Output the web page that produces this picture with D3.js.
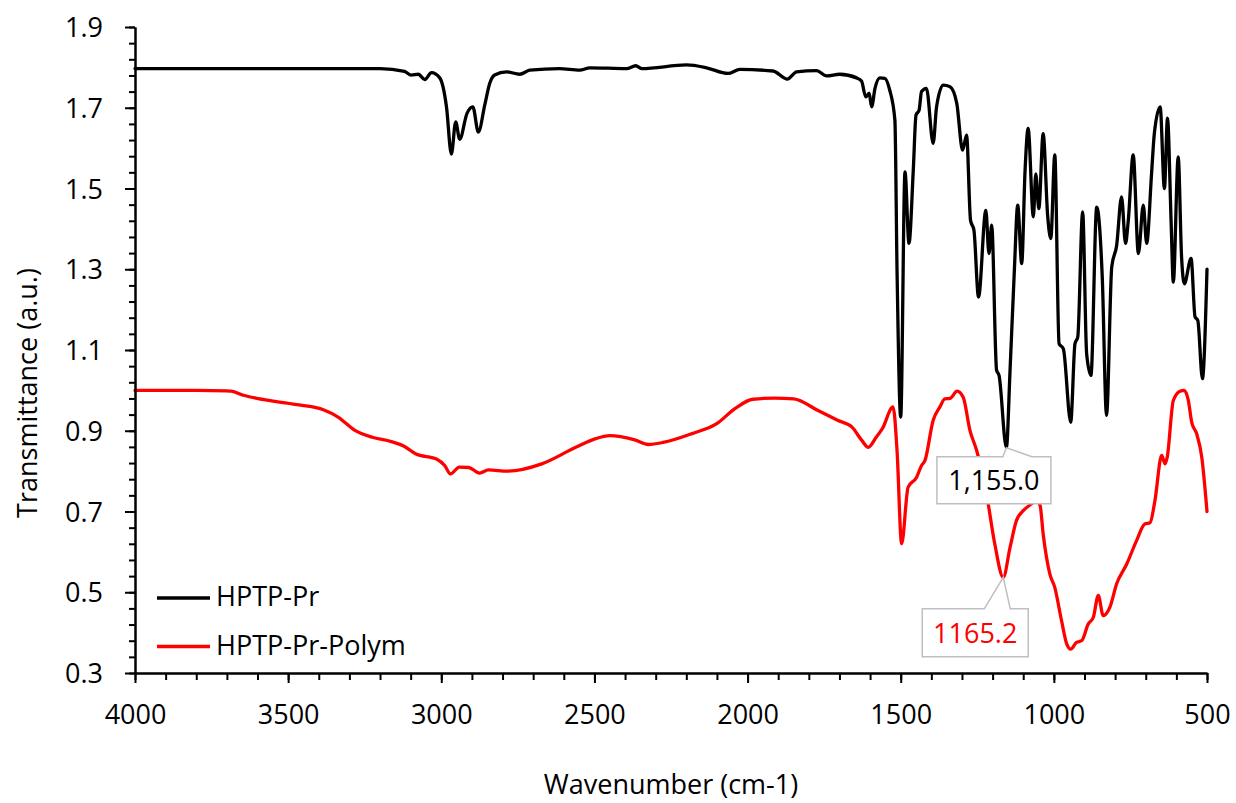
<!DOCTYPE html>
<html>
<head>
<meta charset="utf-8">
<script src="https://cdn.jsdelivr.net/npm/d3@7"></script>
<style>
  html, body { margin: 0; padding: 0; background: #fff; }
  svg { display: block; font-family: "Open Sans", "Noto Sans", sans-serif; }
</style>
</head>
<body>
<svg id="chart" width="1236" height="803"></svg>
<script>
// FTIR spectra: wavenumber (cm-1) and transmittance (a.u.)
const prWavenumber = [
  4000, 3800, 3600, 3400, 3200, 3120, 3098, 3075, 3054, 3032, 3005, 2983, 2967, 2953, 2940,
  2916, 2897, 2879, 2858, 2842, 2826, 2787, 2744, 2711, 2614, 2548, 2515, 2395, 2365, 2346,
  2199, 2134, 2064, 2025, 1917, 1870, 1840, 1775, 1742, 1699, 1644, 1628, 1614, 1603, 1595,
  1584, 1568, 1552, 1536, 1519, 1512, 1500, 1486, 1473, 1459, 1450, 1440, 1432, 1416, 1394,
  1383, 1361, 1339, 1317, 1298, 1285, 1272, 1261, 1246, 1222, 1212, 1203, 1187, 1179, 1155,
  1143, 1129, 1118, 1105, 1094, 1084, 1067, 1059, 1049, 1035, 1020, 1010, 997, 983, 969,
  945, 931, 922, 906, 893, 879, 860, 842, 828, 811, 795, 779, 766, 757, 741,
  724, 708, 697, 681, 672, 653, 639, 629, 617, 610, 594, 583, 574, 552, 539,
  530, 515, 500
];
const prTransmittance = [
  1.797, 1.797, 1.797, 1.797, 1.797, 1.790, 1.781, 1.783, 1.770, 1.787, 1.774, 1.702, 1.585, 1.665, 1.622,
  1.686, 1.702, 1.640, 1.707, 1.760, 1.781, 1.789, 1.783, 1.793, 1.797, 1.793, 1.799, 1.797, 1.804, 1.797,
  1.806, 1.799, 1.785, 1.795, 1.791, 1.771, 1.789, 1.792, 1.779, 1.783, 1.774, 1.766, 1.727, 1.736, 1.702,
  1.748, 1.774, 1.773, 1.744, 1.669, 1.297, 0.934, 1.541, 1.364, 1.545, 1.682, 1.694, 1.740, 1.748, 1.612,
  1.702, 1.756, 1.752, 1.711, 1.595, 1.632, 1.421, 1.397, 1.231, 1.446, 1.339, 1.409, 1.050, 1.037, 0.858,
  1.050, 1.297, 1.459, 1.314, 1.545, 1.649, 1.430, 1.536, 1.450, 1.636, 1.430, 1.376, 1.583, 1.116, 1.103,
  0.921, 1.116, 1.132, 1.442, 1.091, 1.037, 1.454, 1.281, 0.938, 1.306, 1.359, 1.479, 1.364, 1.421, 1.583,
  1.339, 1.459, 1.364, 1.537, 1.636, 1.702, 1.500, 1.674, 1.413, 1.268, 1.578, 1.330, 1.264, 1.327, 1.182,
  1.173, 1.029, 1.300
];

const polymWavenumber = [
  4000, 3900, 3800, 3700, 3685, 3646, 3606, 3543, 3464, 3385, 3337, 3282, 3226, 3163, 3123,
  3084, 3013, 2989, 2970, 2941, 2910, 2875, 2846, 2783, 2672, 2561, 2498, 2450, 2371, 2324,
  2276, 2181, 2102, 2039, 1983, 1912, 1849, 1770, 1706, 1659, 1627, 1606, 1580, 1560, 1525,
  1512, 1497, 1476, 1448, 1432, 1421, 1394, 1372, 1356, 1339, 1316, 1296, 1274, 1252, 1220,
  1193, 1165.2, 1143, 1122, 1100, 1073, 1058, 1045, 1035, 1013, 997, 975, 958, 945, 926,
  909, 888, 871, 855, 839, 817, 795, 762, 730, 703, 686, 670, 648, 637, 630,
  610, 588, 575, 561, 550, 534, 517, 500
];
const polymTransmittance = [
  1.000, 1.000, 1.000, 0.999, 0.998, 0.988, 0.981, 0.973, 0.964, 0.952, 0.934, 0.901, 0.884, 0.873, 0.862,
  0.843, 0.829, 0.814, 0.793, 0.810, 0.809, 0.795, 0.803, 0.800, 0.818, 0.859, 0.880, 0.888, 0.878, 0.866,
  0.871, 0.893, 0.917, 0.956, 0.978, 0.981, 0.979, 0.950, 0.926, 0.909, 0.876, 0.859, 0.884, 0.905, 0.959,
  0.851, 0.620, 0.760, 0.785, 0.814, 0.826, 0.926, 0.959, 0.979, 0.980, 0.998, 0.983, 0.901, 0.851, 0.744,
  0.620, 0.537, 0.611, 0.678, 0.702, 0.719, 0.728, 0.715, 0.645, 0.545, 0.512, 0.430, 0.372, 0.359, 0.376,
  0.380, 0.421, 0.438, 0.492, 0.442, 0.463, 0.521, 0.570, 0.628, 0.669, 0.672, 0.727, 0.839, 0.818, 0.834,
  0.975, 0.998, 1.000, 0.975, 0.921, 0.893, 0.834, 0.700
];

const seriesNames = ["HPTP-Pr", "HPTP-Pr-Polym"];
const seriesColors = ["#000000", "#ff0000"];
const xTickValues = [4000, 3500, 3000, 2500, 2000, 1500, 1000, 500];
const yTickValues = [0.3, 0.5, 0.7, 0.9, 1.1, 1.3, 1.5, 1.7, 1.9];
const peakWavenumbers = [1155.0, 1165.2];
const peakFormats = [",.1f", ".1f"];

const series = [
  { name: seriesNames[0], color: seriesColors[0],
    points: prWavenumber.map((w, i) => ({ w, v: prTransmittance[i] })) },
  { name: seriesNames[1], color: seriesColors[1],
    points: polymWavenumber.map((w, i) => ({ w, v: polymTransmittance[i] })) }
];

const svg = d3.select("#chart");
const plot = { left: 135, right: 1207, top: 27, bottom: 673 };
const fontSize = 27;

const x = d3.scaleLinear().domain([4000, 500]).range([plot.left, plot.right]);
const y = d3.scaleLinear().domain([0.3, 1.9]).range([plot.bottom, plot.top]);

// spectra
const line = d3.line()
  .x(d => x(d.w))
  .y(d => y(d.v))
  .curve(d3.curveMonotoneX);

svg.append("g").selectAll("path")
  .data(series)
  .join("path")
  .attr("d", d => line(d.points))
  .attr("fill", "none")
  .attr("stroke", d => d.color)
  .attr("stroke-width", 3.3)
  .attr("stroke-linejoin", "round")
  .attr("stroke-linecap", "round");

// axes
function styleAxis(g) {
  g.selectAll("path.domain").attr("stroke", "#000").attr("stroke-width", 2);
  g.selectAll(".tick line").attr("stroke", "#000").attr("stroke-width", 2);
  g.selectAll("text").attr("font-size", fontSize).attr("fill", "#000")
    .attr("font-family", "'Open Sans', 'Noto Sans', sans-serif");
}

svg.append("g")
  .attr("transform", `translate(0,${plot.bottom})`)
  .call(d3.axisBottom(x).tickValues(d3.range(500, 4001, 100)).tickSize(7).tickSizeOuter(0).tickFormat(""))
  .call(styleAxis);

svg.append("g")
  .attr("transform", `translate(0,${plot.bottom})`)
  .call(d3.axisBottom(x).tickValues(xTickValues).tickSize(10).tickSizeOuter(0).tickFormat(d3.format("d")))
  .call(styleAxis)
  .call(g => g.selectAll(".tick text").attr("y", 51).attr("dy", 0));

svg.append("g")
  .attr("transform", `translate(${plot.left},0)`)
  .call(d3.axisLeft(y).tickValues(d3.range(0, 41).map(i => 0.3 + i * 0.04)).tickSize(6).tickSizeOuter(0).tickFormat(""))
  .call(styleAxis);

svg.append("g")
  .attr("transform", `translate(${plot.left},0)`)
  .call(d3.axisLeft(y).tickValues(yTickValues).tickSize(10).tickSizeOuter(0).tickFormat(d3.format(".1f")))
  .call(styleAxis)
  .call(g => g.selectAll(".tick text").attr("x", -32).attr("dy", "0.36em"));

// axis titles
svg.append("text")
  .attr("x", (plot.left + plot.right) / 2)
  .attr("y", 794)
  .attr("text-anchor", "middle")
  .attr("font-size", fontSize)
  .text("Wavenumber (cm-1)");

svg.append("text")
  .attr("transform", "translate(37,393) rotate(-90)")
  .attr("text-anchor", "middle")
  .attr("font-size", fontSize)
  .text("Transmittance (a.u.)");

// legend
const legend = svg.append("g").attr("transform", "translate(157,598)");
series.forEach((s, i) => {
  const row = legend.append("g").attr("transform", `translate(0,${i * 48.5})`);
  row.append("line").attr("x1", 0).attr("x2", 53).attr("y1", 0).attr("y2", 0)
    .attr("stroke", s.color).attr("stroke-width", 3.5);
  row.append("text").attr("x", 59).attr("y", 0).attr("dy", "0.3em")
    .attr("font-size", fontSize).attr("fill", "#000").text(s.name);
});

// peak callouts
const calloutLayout = [
  { left: -69.5, right: 44.5, top: 9, bottom: 56, base1: -3.5, base2: 25.5 },
  { left: -81, right: 25, top: 31.5, bottom: 79.5, base1: -19, base2: 7 }
];
const callouts = svg.append("g");
series.forEach((s, i) => {
  const pt = s.points.find(p => p.w === peakWavenumbers[i]);
  const px = x(pt.w), py = y(pt.v);
  const L = calloutLayout[i];
  const l = px + L.left, r = px + L.right, t = py + L.top, b = py + L.bottom;
  const path = d3.path();
  path.moveTo(l, t);
  path.lineTo(px + L.base1, t);
  path.lineTo(px, py);
  path.lineTo(px + L.base2, t);
  path.lineTo(r, t);
  path.lineTo(r, b);
  path.lineTo(l, b);
  path.closePath();
  callouts.append("path").attr("d", path.toString())
    .attr("fill", "#fff").attr("stroke", "#bfbfbf").attr("stroke-width", 1.5);
  callouts.append("text")
    .attr("x", (l + r) / 2).attr("y", (t + b) / 2).attr("dy", "0.36em")
    .attr("text-anchor", "middle").attr("font-size", fontSize)
    .attr("fill", s.color)
    .text(d3.format(peakFormats[i])(pt.w));
});
</script>
</body>
</html>
